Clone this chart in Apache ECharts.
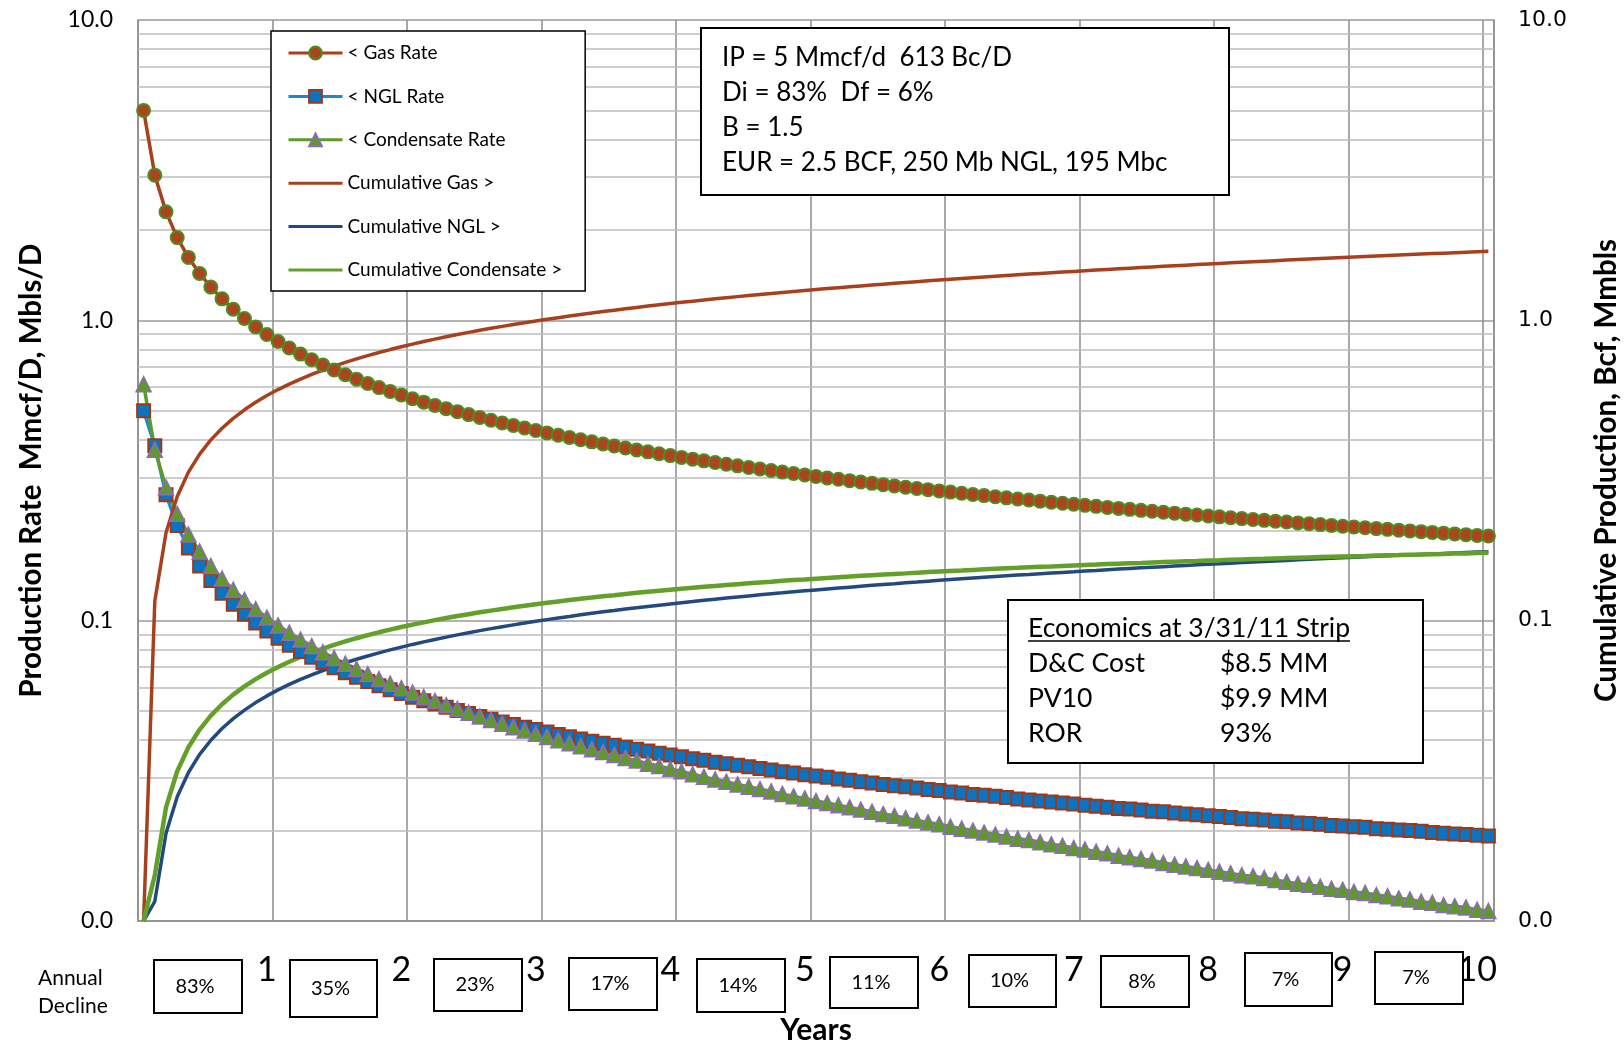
<!DOCTYPE html>
<html>
<head>
<meta charset="utf-8">
<title>Gas / NGL / Condensate decline</title>
<script src="https://cdn.jsdelivr.net/npm/echarts@6/dist/echarts.min.js"></script>
<style>
  html, body { margin: 0; padding: 0; background: #fff; }
  #chart { width: 1624px; height: 1042px; }
</style>
</head>
<body>
<div id="chart"></div>
<script>
// month categories (121 monthly points, 0 .. 10 years)
const months = [
  1, 2, 3, 4, 5, 6, 7, 8, 9, 10, 11, 12,
  13, 14, 15, 16, 17, 18, 19, 20, 21, 22, 23, 24,
  25, 26, 27, 28, 29, 30, 31, 32, 33, 34, 35, 36,
  37, 38, 39, 40, 41, 42, 43, 44, 45, 46, 47, 48,
  49, 50, 51, 52, 53, 54, 55, 56, 57, 58, 59, 60,
  61, 62, 63, 64, 65, 66, 67, 68, 69, 70, 71, 72,
  73, 74, 75, 76, 77, 78, 79, 80, 81, 82, 83, 84,
  85, 86, 87, 88, 89, 90, 91, 92, 93, 94, 95, 96,
  97, 98, 99, 100, 101, 102, 103, 104, 105, 106, 107, 108,
  109, 110, 111, 112, 113, 114, 115, 116, 117, 118, 119, 120,
  121
];
const yearLabels = ['1', '2', '3', '4', '5', '6', '7', '8', '9', '10'];

// rates, Mmcf/D and Mbls/D (left axis)
const gasRate = [
  5.000, 3.044, 2.297, 1.886, 1.620, 1.432, 1.290, 1.179, 1.089, 1.014, 0.951, 0.897,
  0.850, 0.809, 0.772, 0.739, 0.710, 0.683, 0.659, 0.637, 0.616, 0.597, 0.580, 0.564,
  0.548, 0.534, 0.521, 0.508, 0.4965, 0.4854, 0.4749, 0.4649, 0.4554, 0.4464, 0.4378, 0.4297,
  0.4219, 0.4144, 0.4073, 0.4005, 0.3939, 0.3876, 0.3816, 0.3758, 0.3702, 0.3648, 0.3596, 0.3545,
  0.3497, 0.3450, 0.3405, 0.3361, 0.3318, 0.3277, 0.3237, 0.3198, 0.3161, 0.3124, 0.3089, 0.3055,
  0.3021, 0.2988, 0.2957, 0.2926, 0.2895, 0.2866, 0.2837, 0.2810, 0.2782, 0.2756, 0.2730, 0.2704,
  0.2680, 0.2655, 0.2632, 0.2609, 0.2586, 0.2564, 0.2542, 0.2521, 0.2500, 0.2479, 0.2460, 0.2440,
  0.2421, 0.2402, 0.2383, 0.2365, 0.2348, 0.2330, 0.2313, 0.2296, 0.2280, 0.2263, 0.2248, 0.2232,
  0.2217, 0.2201, 0.2187, 0.2172, 0.2158, 0.2143, 0.2130, 0.2116, 0.2102, 0.2089, 0.2076, 0.2063,
  0.2051, 0.2038, 0.2026, 0.2014, 0.2002, 0.1990, 0.1979, 0.1967, 0.1956, 0.1945, 0.1934, 0.1923,
  0.1913
];
const nglRate = [
  0.500, 0.3822, 0.2627, 0.2074, 0.1745, 0.1521, 0.1361, 0.1234, 0.1134, 0.1051, 0.0983, 0.0924,
  0.0874, 0.0829, 0.0790, 0.0756, 0.0725, 0.0697, 0.0671, 0.0648, 0.0627, 0.0607, 0.0589, 0.0572,
  0.0556, 0.0541, 0.0528, 0.0515, 0.0502, 0.0491, 0.0480, 0.0470, 0.0460, 0.0451, 0.0442, 0.0434,
  0.0426, 0.0418, 0.0411, 0.0404, 0.0397, 0.0391, 0.0385, 0.0379, 0.0373, 0.0368, 0.0362, 0.0357,
  0.0352, 0.0347, 0.0343, 0.0338, 0.0334, 0.0330, 0.0326, 0.0322, 0.0318, 0.0314, 0.0311, 0.0307,
  0.0304, 0.0301, 0.0297, 0.0294, 0.0291, 0.0288, 0.0285, 0.0282, 0.0280, 0.0277, 0.0274, 0.0272,
  0.0269, 0.0267, 0.0264, 0.0262, 0.0260, 0.0258, 0.0255, 0.0253, 0.0251, 0.0249, 0.0247, 0.0245,
  0.0243, 0.0241, 0.0239, 0.0237, 0.0236, 0.0234, 0.0232, 0.0231, 0.0229, 0.0227, 0.0226, 0.0224,
  0.0223, 0.0221, 0.0219, 0.0218, 0.0217, 0.0215, 0.0214, 0.0212, 0.0211, 0.0210, 0.0208, 0.0207,
  0.0206, 0.0205, 0.0203, 0.0202, 0.0201, 0.0200, 0.0199, 0.0197, 0.0196, 0.0195, 0.0194, 0.0193,
  0.0192
];
const condRate = [
  0.613, 0.3707, 0.2780, 0.2268, 0.1936, 0.1699, 0.1521, 0.1381, 0.1267, 0.1173, 0.1093, 0.1024,
  0.0964, 0.0912, 0.0865, 0.0823, 0.0785, 0.0751, 0.0719, 0.0691, 0.0664, 0.0639, 0.0617, 0.0596,
  0.0576, 0.0557, 0.0540, 0.0523, 0.0508, 0.0494, 0.0480, 0.0467, 0.0454, 0.0442, 0.0431, 0.0420,
  0.0410, 0.0400, 0.0391, 0.0382, 0.0373, 0.0365, 0.0357, 0.0349, 0.0342, 0.0334, 0.0328, 0.0321,
  0.0315, 0.0308, 0.0302, 0.0296, 0.0291, 0.0285, 0.0280, 0.0275, 0.0270, 0.0265, 0.0260, 0.0256,
  0.0251, 0.0247, 0.0243, 0.0239, 0.0235, 0.0231, 0.0227, 0.0224, 0.0220, 0.0216, 0.0213, 0.0210,
  0.0206, 0.0203, 0.0200, 0.0197, 0.0194, 0.0191, 0.0188, 0.0186, 0.0183, 0.0180, 0.0178, 0.0175,
  0.0173, 0.0170, 0.0168, 0.0165, 0.0163, 0.0161, 0.0159, 0.0156, 0.0154, 0.0152, 0.0150, 0.0148,
  0.0146, 0.0144, 0.0142, 0.0141, 0.0139, 0.0137, 0.0135, 0.0133, 0.0132, 0.0130, 0.0128, 0.0127,
  0.0125, 0.0124, 0.0122, 0.0121, 0.0119, 0.0118, 0.0116, 0.0115, 0.0113, 0.0112, 0.0111, 0.0109,
  0.0108
];

// cumulative production, Bcf and MMbls (right axis)
const cumGas = [
  0.01, 0.1163, 0.1961, 0.2592, 0.3123, 0.3586, 0.3999, 0.4374, 0.4718, 0.5037, 0.5336, 0.5617,
  0.5882, 0.6134, 0.6375, 0.6605, 0.6825, 0.7037, 0.7241, 0.7438, 0.7628, 0.7813, 0.7992, 0.8166,
  0.8335, 0.8499, 0.8660, 0.8816, 0.8969, 0.9119, 0.9264, 0.9407, 0.9547, 0.9684, 0.9819, 0.9951,
  1.0080, 1.0208, 1.0332, 1.0455, 1.0576, 1.0695, 1.0812, 1.0927, 1.1040, 1.1152, 1.1263, 1.1371,
  1.1478, 1.1584, 1.1688, 1.1791, 1.1893, 1.1993, 1.2092, 1.2190, 1.2286, 1.2382, 1.2477, 1.2570,
  1.2662, 1.2754, 1.2844, 1.2934, 1.3022, 1.3110, 1.3197, 1.3282, 1.3367, 1.3452, 1.3535, 1.3618,
  1.3700, 1.3781, 1.3861, 1.3941, 1.4020, 1.4098, 1.4176, 1.4253, 1.4329, 1.4405, 1.4480, 1.4554,
  1.4628, 1.4702, 1.4775, 1.4847, 1.4919, 1.4990, 1.5060, 1.5131, 1.5200, 1.5269, 1.5338, 1.5406,
  1.5474, 1.5541, 1.5607, 1.5674, 1.5740, 1.5805, 1.5870, 1.5935, 1.5999, 1.6062, 1.6126, 1.6189,
  1.6251, 1.6313, 1.6375, 1.6437, 1.6498, 1.6558, 1.6618, 1.6679, 1.6738, 1.6798, 1.6857, 1.6915,
  1.6974
];
const cumNgl = [
  0.01, 0.01163, 0.01961, 0.02592, 0.03123, 0.03586, 0.03999, 0.04374, 0.04718, 0.05037, 0.05336, 0.05617,
  0.05882, 0.06134, 0.06375, 0.06605, 0.06825, 0.07037, 0.07241, 0.07438, 0.07628, 0.07813, 0.07992, 0.08166,
  0.08335, 0.08499, 0.08660, 0.08816, 0.08969, 0.09119, 0.09264, 0.09407, 0.09547, 0.09684, 0.09819, 0.09951,
  0.1008, 0.1021, 0.1033, 0.1046, 0.1058, 0.1070, 0.1081, 0.1093, 0.1104, 0.1115, 0.1126, 0.1137,
  0.1148, 0.1158, 0.1169, 0.1179, 0.1189, 0.1199, 0.1209, 0.1219, 0.1229, 0.1238, 0.1248, 0.1257,
  0.1266, 0.1275, 0.1284, 0.1293, 0.1302, 0.1311, 0.1320, 0.1328, 0.1337, 0.1345, 0.1354, 0.1362,
  0.1370, 0.1378, 0.1386, 0.1394, 0.1402, 0.1410, 0.1418, 0.1425, 0.1433, 0.1441, 0.1448, 0.1455,
  0.1463, 0.1470, 0.1478, 0.1485, 0.1492, 0.1499, 0.1506, 0.1513, 0.1520, 0.1527, 0.1534, 0.1541,
  0.1547, 0.1554, 0.1561, 0.1567, 0.1574, 0.1581, 0.1587, 0.1594, 0.1600, 0.1606, 0.1613, 0.1619,
  0.1625, 0.1631, 0.1638, 0.1644, 0.1650, 0.1656, 0.1662, 0.1668, 0.1674, 0.1680, 0.1686, 0.1692,
  0.1697
];
const cumCond = [
  0.01, 0.01421, 0.02391, 0.03152, 0.03788, 0.04339, 0.04829, 0.05270, 0.05673, 0.06044, 0.06389, 0.06711,
  0.07013, 0.07299, 0.07569, 0.07825, 0.08070, 0.08303, 0.08527, 0.08742, 0.08947, 0.09146, 0.09337, 0.09521,
  0.09699, 0.09872, 0.1004, 0.1020, 0.1036, 0.1051, 0.1066, 0.1080, 0.1094, 0.1108, 0.1121, 0.1134,
  0.1147, 0.1159, 0.1171, 0.1183, 0.1194, 0.1206, 0.1216, 0.1227, 0.1238, 0.1248, 0.1258, 0.1268,
  0.1278, 0.1287, 0.1296, 0.1305, 0.1314, 0.1323, 0.1332, 0.1340, 0.1348, 0.1357, 0.1365, 0.1372,
  0.1380, 0.1388, 0.1395, 0.1402, 0.1410, 0.1417, 0.1424, 0.1431, 0.1437, 0.1444, 0.1451, 0.1457,
  0.1463, 0.1469, 0.1476, 0.1482, 0.1488, 0.1494, 0.1499, 0.1505, 0.1511, 0.1516, 0.1522, 0.1527,
  0.1532, 0.1537, 0.1543, 0.1548, 0.1553, 0.1557, 0.1562, 0.1567, 0.1572, 0.1577, 0.1581, 0.1586,
  0.1590, 0.1595, 0.1599, 0.1603, 0.1607, 0.1612, 0.1616, 0.1620, 0.1624, 0.1628, 0.1632, 0.1636,
  0.1640, 0.1643, 0.1647, 0.1651, 0.1654, 0.1658, 0.1662, 0.1665, 0.1668, 0.1672, 0.1675, 0.1679,
  0.1682
];

// log minor grid values
const minorGrid = [0.02, 0.03, 0.04, 0.05, 0.06, 0.07, 0.08, 0.09,
  0.2, 0.3, 0.4, 0.5, 0.6, 0.7, 0.8, 0.9, 2, 3, 4, 5, 6, 7, 8, 9];

// annual decline boxes under the axis
const declineLabels = ['83%', '35%', '23%', '17%', '14%', '11%', '10%', '8%', '7%', '7%'];
const declineBoxes = [
  [154, 960, 88, 53], [290, 960, 87, 57], [434, 959, 88, 52], [569, 958, 88, 52],
  [697, 959, 88, 53], [830, 957, 88, 51], [969, 955, 87, 52], [1101, 956, 88, 51],
  [1245, 953, 87, 53], [1375, 952, 88, 52]
];

const wellLines = [
  'IP = 5 Mmcf/d  613 Bc/D',
  'Di = 83%  Df = 6%',
  'B = 1.5',
  'EUR = 2.5 BCF, 250 Mb NGL, 195 Mbc'
];
const econTitle = 'Economics at 3/31/11 Strip';
const econRows = [
  ['D&C Cost', '$8.5 MM'],
  ['PV10', '$9.9 MM'],
  ['ROR', '93%']
];

const FONT = 'Lato, "Open Sans", sans-serif';
const gridGrey = '#8c8c8c';

const chart = echarts.init(document.getElementById('chart'));

function txt(x, y, text, size, align) {
  return {
    type: 'text', x: x, y: y, z: 101,
    style: {
      text: text, fontFamily: FONT, fontSize: size, fill: '#000',
      align: align, textAlign: align, verticalAlign: 'middle', textVerticalAlign: 'middle'
    }
  };
}

const graphics = [];

// well parameter box
graphics.push({ type: 'rect', z: 100, shape: { x: 701, y: 28, width: 528, height: 167 },
  style: { fill: '#fff', stroke: '#000', lineWidth: 2 } });
wellLines.forEach(function (t, i) {
  graphics.push(txt(722, 58 + i * 35, t, 26, 'left'));
});

// economics box
graphics.push({ type: 'rect', z: 100, shape: { x: 1008, y: 600, width: 415, height: 163 },
  style: { fill: '#fff', stroke: '#000', lineWidth: 2 } });
graphics.push(txt(1028, 628, econTitle, 26.5, 'left'));
const measure = document.createElement('canvas').getContext('2d');
measure.font = '26.5px ' + FONT;
const ulWidth = measure.measureText(econTitle).width;
graphics.push({ type: 'line', z: 101, shape: { x1: 1028, y1: 641, x2: 1028 + ulWidth, y2: 641 },
  style: { stroke: '#000', lineWidth: 1.5 } });
econRows.forEach(function (r, i) {
  graphics.push(txt(1028, 663 + i * 35, r[0], 26.5, 'left'));
  graphics.push(txt(1220, 663 + i * 35, r[1], 26.5, 'left'));
});

// annual decline
graphics.push(txt(38, 978, 'Annual', 21, 'left'));
graphics.push(txt(38, 1006, 'Decline', 21, 'left'));
declineBoxes.forEach(function (b, i) {
  graphics.push({ type: 'rect', z: 100, shape: { x: b[0], y: b[1], width: b[2], height: b[3] },
    style: { fill: '#fff', stroke: '#000', lineWidth: 2 } });
  graphics.push(txt(b[0] + b[2] / 2 - 3, b[1] + b[3] / 2, declineLabels[i], 20, 'center'));
});

const option = {
  animation: false,
  backgroundColor: '#fff',
  grid: { left: 138, right: 130, top: 20, bottom: 121, containLabel: false, outerBoundsMode: 'none' },
  legend: {
    orient: 'vertical',
    left: 271,
    top: 31,
    itemWidth: 54,
    itemHeight: 16,
    itemGap: 23.4,
    padding: [12, 23, 11, 16],
    borderColor: '#000',
    borderWidth: 1.5,
    backgroundColor: '#fff',
    selectedMode: false,
    lineStyle: { width: 3 },
    textStyle: { fontFamily: FONT, fontSize: 19, color: '#000', lineHeight: 20 },
    data: [
      { name: '< Gas Rate' },
      { name: '< NGL Rate' },
      { name: '< Condensate Rate' },
      { name: 'Cumulative Gas >', itemStyle: { opacity: 0 } },
      { name: 'Cumulative NGL >', itemStyle: { opacity: 0 } },
      { name: 'Cumulative Condensate >', itemStyle: { opacity: 0 } }
    ]
  },
  xAxis: {
    type: 'category',
    data: months,
    boundaryGap: true,
    axisLine: { lineStyle: { color: gridGrey, width: 1.5 } },
    axisTick: { show: false },
    axisLabel: {
      interval: function (i) { return (i + 1) % 12 === 0; },
      formatter: function (v, i) { return yearLabels[(i + 1) / 12 - 1]; },
      fontFamily: FONT, fontSize: 34, color: '#000', margin: 32
    },
    splitLine: {
      show: true,
      interval: function (i) { return i % 12 === 0; },
      lineStyle: { color: gridGrey, width: 1.5 }
    },
    name: 'Years',
    nameLocation: 'middle',
    nameGap: 94,
    nameTextStyle: { fontFamily: FONT, fontSize: 30, fontWeight: 'bold', color: '#000' }
  },
  yAxis: [
    {
      type: 'log', logBase: 10, min: 0.01, max: 10, splitNumber: 3, position: 'left',
      axisLine: { show: true, lineStyle: { color: gridGrey, width: 1.5 } },
      axisTick: { show: false },
      axisLabel: {
        formatter: function (v) { return v.toFixed(1); },
        fontFamily: FONT, fontSize: 23, color: '#000', margin: 25
      },
      splitLine: { show: true, lineStyle: { color: '#9a9a9a', width: 1.5 } },
      name: 'Production Rate  Mmcf/D, Mbls/D',
      nameLocation: 'middle',
      nameGap: 92,
      nameTextStyle: { fontFamily: FONT, fontSize: 29.5, fontWeight: 'bold', color: '#000' }
    },
    {
      type: 'log', logBase: 10, min: 0.01, max: 10, splitNumber: 3, position: 'right',
      axisLine: { show: true, lineStyle: { color: gridGrey, width: 1.5 } },
      axisTick: { show: false },
      axisLabel: {
        formatter: function (v) { return v.toFixed(1); },
        fontFamily: '"DejaVu Sans", sans-serif', fontSize: 22, color: '#000', margin: 24
      },
      splitLine: { show: false },
      name: 'Cumulative Production, Bcf, Mmbls',
      nameLocation: 'middle',
      nameGap: 97,
      nameTextStyle: { fontFamily: FONT, fontSize: 29.5, fontWeight: 'bold', color: '#000' }
    }
  ],
  series: [
    {
      name: '< Gas Rate', type: 'line', yAxisIndex: 0, data: gasRate,
      symbol: 'circle', symbolSize: 13, showAllSymbol: true, silent: true,
      lineStyle: { color: '#A8401E', width: 3.5 },
      itemStyle: { color: '#AD431F', borderColor: '#4F8C20', borderWidth: 2 },
      markLine: {
        silent: true, z: 1, symbol: ['none', 'none'],
        label: { show: false },
        lineStyle: { color: '#bdbdbd', width: 1.5, type: 'solid' },
        data: minorGrid.map(function (v) { return { yAxis: v }; })
      }
    },
    {
      name: '< NGL Rate', type: 'line', yAxisIndex: 0, data: nglRate,
      symbol: 'rect', symbolSize: 13, showAllSymbol: true, silent: true,
      lineStyle: { color: '#2088D0', width: 3.5 },
      itemStyle: { color: '#0B74C0', borderColor: '#9C391C', borderWidth: 2 }
    },
    {
      name: '< Condensate Rate', type: 'line', yAxisIndex: 0, data: condRate,
      symbol: 'triangle', symbolSize: 15, showAllSymbol: true, silent: true,
      lineStyle: { color: '#5E9A28', width: 3.5 },
      itemStyle: { color: '#5E9A28', borderColor: '#8E6BB8', borderWidth: 1.5 }
    },
    {
      name: 'Cumulative Gas >', type: 'line', yAxisIndex: 1, data: cumGas,
      symbol: 'none', silent: true,
      lineStyle: { color: '#A8401E', width: 3.5 },
      itemStyle: { color: '#A8401E' }
    },
    {
      name: 'Cumulative NGL >', type: 'line', yAxisIndex: 1, data: cumNgl,
      symbol: 'none', silent: true,
      lineStyle: { color: '#23497F', width: 3.5 },
      itemStyle: { color: '#23497F' }
    },
    {
      name: 'Cumulative Condensate >', type: 'line', yAxisIndex: 1, data: cumCond,
      symbol: 'none', silent: true,
      lineStyle: { color: '#62A02A', width: 4.5 },
      itemStyle: { color: '#62A02A' }
    }
  ],
  graphic: { elements: graphics }
};

chart.setOption(option);
</script>
</body>
</html>
